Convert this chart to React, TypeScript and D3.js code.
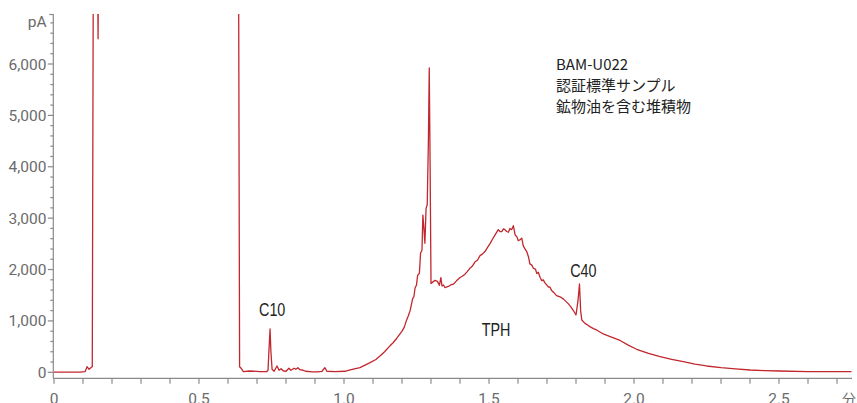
import React from "react";
import * as d3 from "d3";

// chromatogram trace: [time (min), signal (pA)] ; values above the axis top are off-scale
const trace: [number, number][] = [
  [0, 2], [0.09, 2], [0.107, 12], [0.114, 109], [0.121, 58], [0.129, 97], [0.132, 109],
  [0.136, 9000], [0.149, 9000], [0.152, 6490], [0.154, 9000], [0.636, 9000],
  [0.640, 109], [0.645, 80], [0.653, 12], [0.676, 25], [0.710, 15], [0.733, 12],
  [0.738, 40], [0.741, 400], [0.745, 843], [0.748, 400], [0.752, 60], [0.759, 20],
  [0.769, 122], [0.776, 40], [0.783, 70], [0.790, 30], [0.800, 20], [0.810, 80],
  [0.817, 40], [0.828, 80], [0.834, 60], [0.841, 90], [0.848, 50], [0.859, 40],
  [0.869, 20], [0.890, 10], [0.910, 10], [0.924, 20], [0.934, 90], [0.941, 20],
  [0.969, 15], [1.003, 20], [1.021, 45], [1.055, 90], [1.090, 187], [1.110, 250], [1.124, 317],
  [1.140, 400], [1.159, 518], [1.170, 580], [1.182, 663], [1.199, 792], [1.208, 880], [1.216, 1020],
  [1.222, 1100], [1.228, 1200], [1.237, 1440], [1.241, 1470],
  [1.245, 1640], [1.250, 1700], [1.254, 1890], [1.260, 1925], [1.264, 2317], [1.269, 2380],
  [1.272, 3060], [1.276, 2770], [1.279, 2510], [1.283, 3190], [1.287, 3260],
  [1.291, 4500], [1.294, 5923], [1.297, 4000], [1.300, 1730], [1.307, 1760], [1.314, 1790],
  [1.322, 1770], [1.329, 1693], [1.334, 1843], [1.338, 1680], [1.343, 1700], [1.348, 1650],
  [1.360, 1670], [1.368, 1700], [1.377, 1714], [1.388, 1780], [1.400, 1845], [1.408, 1870], [1.417, 1910],
  [1.425, 1960], [1.434, 2024], [1.443, 2070], [1.452, 2150], [1.460, 2180], [1.469, 2270],
  [1.477, 2300], [1.486, 2350], [1.495, 2430], [1.503, 2500], [1.512, 2590], [1.521, 2673],
  [1.532, 2776], [1.538, 2740], [1.544, 2737], [1.550, 2790], [1.555, 2776], [1.561, 2740],
  [1.567, 2725], [1.572, 2800], [1.578, 2776], [1.584, 2854], [1.590, 2673], [1.596, 2640],
  [1.601, 2562], [1.607, 2580], [1.613, 2609], [1.618, 2466], [1.624, 2400],
  [1.630, 2350], [1.636, 2250], [1.641, 2111], [1.647, 2090], [1.653, 2024], [1.660, 2010],
  [1.665, 1920], [1.670, 1946], [1.676, 1850], [1.682, 1785], [1.687, 1800],
  [1.693, 1740], [1.699, 1700], [1.705, 1656], [1.710, 1660], [1.716, 1590], [1.724, 1550],
  [1.733, 1493], [1.745, 1470], [1.756, 1429], [1.765, 1380],
  [1.774, 1332], [1.783, 1270], [1.791, 1202], [1.800, 1115], [1.807, 1400], [1.812, 1718],
  [1.816, 1200], [1.820, 1018], [1.831, 953], [1.840, 920], [1.848, 889], [1.860, 850], [1.871, 824],
  [1.894, 746], [1.920, 690], [1.952, 620], [1.980, 530], [2.009, 448], [2.050, 370],
  [2.090, 304], [2.130, 250], [2.170, 206], [2.210, 160], [2.250, 123], [2.300, 90],
  [2.350, 65], [2.400, 45], [2.450, 33], [2.500, 25], [2.600, 15], [2.750, 12],
];

const yMajorTicks = [0, 1000, 2000, 3000, 4000, 5000, 6000];
const xMajorTicks = [0, 0.5, 1.0, 1.5, 2.0, 2.5];
const yUnit = "pA";
const xUnit = "分";
const sampleLines = ["BAM-U022", "認証標準サンプル", "鉱物油を含む堆積物"];
const peakLabels: { text: string; t: number; v: number }[] = [
  { text: "C10", t: 0.707, v: 1090 },
  { text: "C40", t: 1.780, v: 1860 },
  { text: "TPH", t: 1.475, v: 705 },
];

const W = 857, H = 403;
const x = d3.scaleLinear().domain([0, 2.75]).range([54, 851.5]);
const y = d3.scaleLinear().domain([0, 6973]).range([372.3, 14]);

const AXIS = "#8a8a8a";
const TICKTXT = "#6b6b6b";
const LINE = "#c1272d";
const TICKFONT = "Roboto, 'Liberation Sans', sans-serif";
const LABELFONT = "'Liberation Sans', Roboto, sans-serif";
const JPFONT = "'Noto Sans CJK JP', 'Noto Sans', sans-serif";

export default function App() {
  const line = d3.line<[number, number]>().x(d => x(d[0])).y(d => y(d[1]));
  const yMinor = d3.range(0, 6973, 200);
  const xMinor = d3.range(0, 2.75 + 1e-9, 0.1);
  const [, y1] = y.range();
  const xAxisY = 378.3;
  const yAxisX = 53.3;

  return (
    <svg width={W} height={H} style={{ position: "absolute", left: 0, top: 0 }}>
      <defs>
        <clipPath id="plot">
          <rect x={yAxisX} y={y1} width={W - yAxisX} height={xAxisY - y1} />
        </clipPath>
      </defs>
      {/* y axis */}
      <line x1={yAxisX} x2={yAxisX} y1={y1} y2={xAxisY} stroke={AXIS} strokeWidth={1.2} />
      <line x1={yAxisX - 4} x2={yAxisX} y1={y1 + 0.5} y2={y1 + 0.5} stroke={AXIS} strokeWidth={1.2} />
      {yMinor.map(v => (
        <line key={"ym" + v} x1={yAxisX - (v % 1000 === 0 ? 5.5 : 3)} x2={yAxisX} y1={y(v)} y2={y(v)} stroke={AXIS} strokeWidth={1.2} />
      ))}
      {yMajorTicks.map(v => (
        <text key={"yl" + v} x={46.5} y={y(v)} dy="0.36em" textAnchor="end" fontFamily={TICKFONT} fontSize={15.5} fill={TICKTXT}>
          {d3.format(",")(v)}
        </text>
      ))}
      <text x={46.5} y={27} textAnchor="end" fontFamily={TICKFONT} fontSize={15.5} fill={TICKTXT}>{yUnit}</text>

      {/* x axis */}
      <line x1={yAxisX} x2={852} y1={xAxisY} y2={xAxisY} stroke={AXIS} strokeWidth={1.2} />
      {xMinor.map(t => (
        <line key={"xm" + t} x1={x(t)} x2={x(t)} y1={xAxisY} y2={xAxisY + 5.5} stroke={AXIS} strokeWidth={1.2} />
      ))}
      {xMajorTicks.map(t => (
        <text key={"xl" + t} x={x(t)} y={403.5} textAnchor="middle" fontFamily={TICKFONT} fontSize={15.5} fill={TICKTXT}>
          {t === 0 ? "0" : d3.format(".1f")(t)}
        </text>
      ))}
      <text x={842} y={403.5} fontFamily={JPFONT} fontSize={14} fill={TICKTXT}>{xUnit}</text>

      {/* trace */}
      <g clipPath="url(#plot)">
        <path d={line(trace) || ""} fill="none" stroke={LINE} strokeWidth={1.3} strokeLinejoin="round" />
      </g>

      {/* peak labels (condensed look) */}
      {peakLabels.map(p => (
        <text key={p.text} transform={`translate(${x(p.t)},${y(p.v)}) scale(0.82,1)`} fontFamily={LABELFONT} fontSize={17.5} fill="#222">{p.text}</text>
      ))}
      {sampleLines.map((s, i) => (
        <text key={s} x={556} y={70 + i * 21} fontFamily={JPFONT} fontSize={15} fill="#222">{s}</text>
      ))}
    </svg>
  );
}
